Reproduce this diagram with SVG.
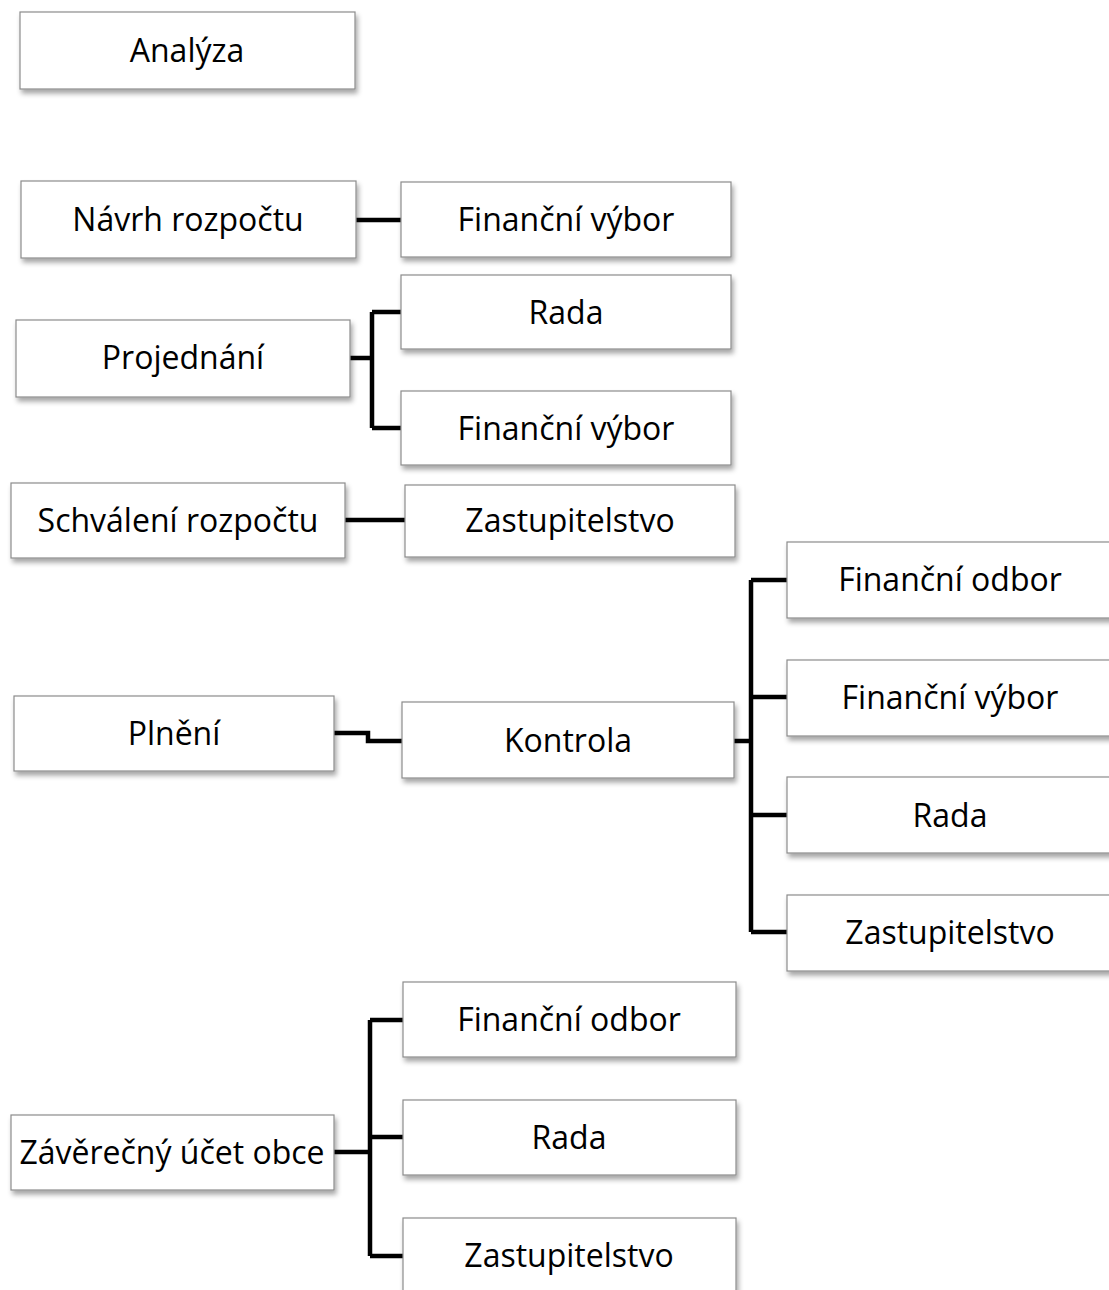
<svg xmlns="http://www.w3.org/2000/svg" width="1109" height="1290" viewBox="0 0 1109 1290">
<defs>
<filter id="sh" x="-10%" y="-20%" width="130%" height="160%">
<feDropShadow dx="2" dy="4" stdDeviation="2.5" flood-color="#000" flood-opacity="0.35"/>
</filter>
<style>
.box{fill:#fff;stroke:#8c8c8c;stroke-width:1.2;filter:url(#sh)}
.t{font-family:"Open Sans","Noto Sans",sans-serif;font-size:32px;fill:#000;text-anchor:middle}
.c{fill:none;stroke:#000;stroke-width:4.5;stroke-linejoin:miter;stroke-linecap:butt}
</style>
</defs>
<rect width="1109" height="1290" fill="#fff"/>
<g id="connectors">
<path class="c" d="M356 220H401"/>
<path class="c" d="M350 358H372M372 312V428M372 312H401M372 428H401"/>
<path class="c" d="M345 520H405"/>
<path class="c" d="M334 733H368V741H402"/>
<path class="c" d="M734 741H751M751 580V932M751 580H787M751 697H787M751 815H787M751 932H787"/>
<path class="c" d="M334 1152H370M370 1020V1256M370 1020H403M370 1137H403M370 1256H403"/>
</g>
<g id="n-analyza"><rect class="box" x="20" y="12" width="335" height="77"/><text class="t" x="187" y="62">Analýza</text></g>
<g id="n-navrh"><rect class="box" x="21" y="181" width="335" height="77"/><text class="t" x="188" y="231">Návrh rozpočtu</text></g>
<g id="n-fv1"><rect class="box" x="401" y="182" width="330" height="75"/><text class="t" x="566" y="231">Finanční výbor</text></g>
<g id="n-projednani"><rect class="box" x="16" y="320" width="334" height="77"/><text class="t" x="183" y="369">Projednání</text></g>
<g id="n-rada1"><rect class="box" x="401" y="275" width="330" height="74"/><text class="t" x="566" y="324">Rada</text></g>
<g id="n-fv2"><rect class="box" x="401" y="391" width="330" height="74"/><text class="t" x="566" y="440">Finanční výbor</text></g>
<g id="n-schvaleni"><rect class="box" x="11" y="483" width="334" height="75"/><text class="t" x="178" y="532">Schválení rozpočtu</text></g>
<g id="n-zast1"><rect class="box" x="405" y="485" width="330" height="72"/><text class="t" x="570" y="532">Zastupitelstvo</text></g>
<g id="n-plneni"><rect class="box" x="14" y="696" width="320" height="75"/><text class="t" x="174" y="745">Plnění</text></g>
<g id="n-kontrola"><rect class="box" x="402" y="702" width="332" height="76"/><text class="t" x="568" y="752">Kontrola</text></g>
<g id="n-fo1"><rect class="box" x="787" y="542" width="330" height="76"/><text class="t" x="950" y="591">Finanční odbor</text></g>
<g id="n-fv3"><rect class="box" x="787" y="660" width="330" height="76"/><text class="t" x="950" y="709">Finanční výbor</text></g>
<g id="n-rada2"><rect class="box" x="787" y="777" width="330" height="76"/><text class="t" x="950" y="827">Rada</text></g>
<g id="n-zast2"><rect class="box" x="787" y="895" width="330" height="76"/><text class="t" x="950" y="944">Zastupitelstvo</text></g>
<g id="n-zaverecny"><rect class="box" x="11" y="1115" width="323" height="75"/><text class="t" x="172" y="1164">Závěrečný účet obce</text></g>
<g id="n-fo2"><rect class="box" x="403" y="982" width="333" height="75"/><text class="t" x="569" y="1031">Finanční odbor</text></g>
<g id="n-rada3"><rect class="box" x="403" y="1100" width="333" height="75"/><text class="t" x="569" y="1149">Rada</text></g>
<g id="n-zast3"><rect class="box" x="403" y="1218" width="333" height="90"/><text class="t" x="569" y="1267">Zastupitelstvo</text></g>
</svg>
